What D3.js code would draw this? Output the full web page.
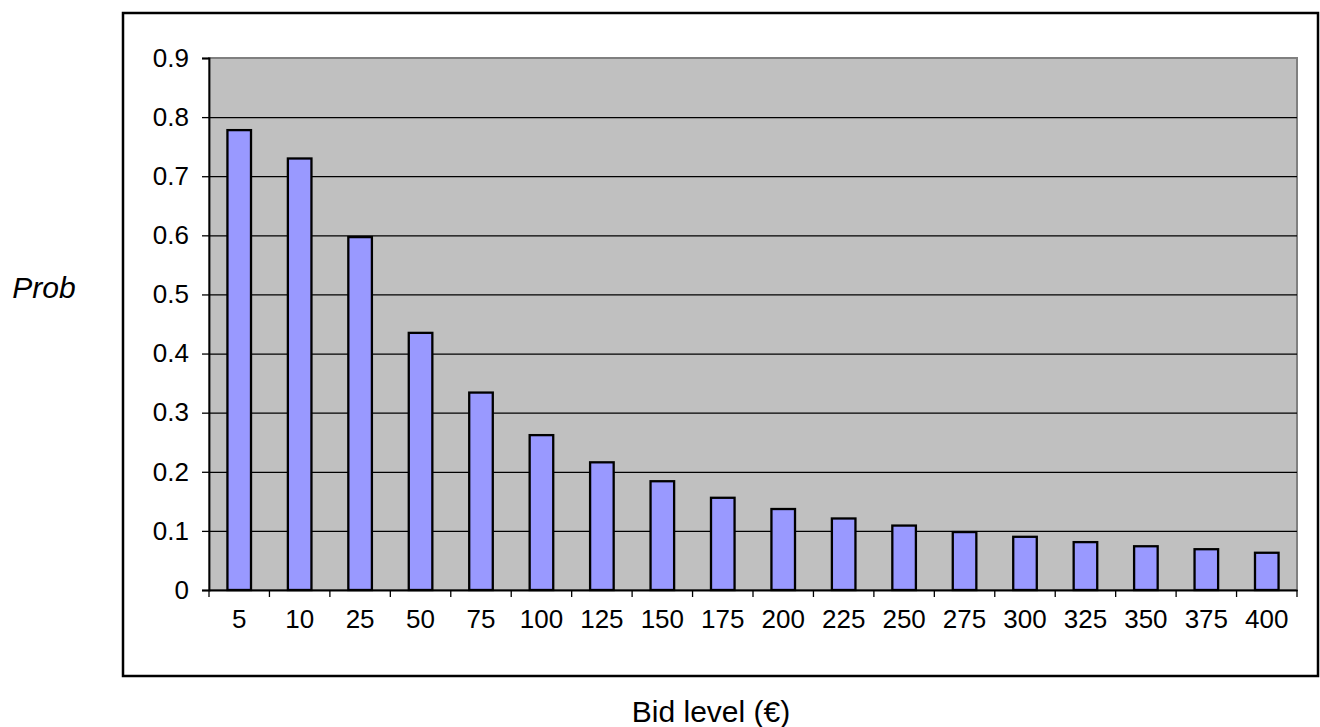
<!DOCTYPE html>
<html>
<head>
<meta charset="utf-8">
<script src="https://cdn.jsdelivr.net/npm/d3@7"></script>
<style>
  html, body { margin: 0; padding: 0; background: #fff; }
  svg { display: block; font-family: "Liberation Sans", Arial, sans-serif; }
</style>
</head>
<body>
<svg id="chart" width="1320" height="727"></svg>
<script>
// Bid levels (€) and the probability of acceptance at each level
const bidLevels = ["5", "10", "25", "50", "75", "100", "125", "150", "175", "200",
                   "225", "250", "275", "300", "325", "350", "375", "400"];
const probValues = [0.778, 0.730, 0.597, 0.435, 0.334, 0.262, 0.216, 0.184, 0.156,
                    0.137, 0.121, 0.109, 0.098, 0.090, 0.081, 0.074, 0.069, 0.063];
const yTickValues = [0, 0.1, 0.2, 0.3, 0.4, 0.5, 0.6, 0.7, 0.8, 0.9];

const svg = d3.select("#chart");

// Plot area bounds
const plot = { left: 209, right: 1297, top: 58, bottom: 590 };

const x = d3.scaleBand()
  .domain(bidLevels)
  .range([plot.left, plot.right])
  .padding(0);

const y = d3.scaleLinear()
  .domain([0, 0.9])
  .range([plot.bottom, plot.top]);

// Outer chart frame
svg.append("rect")
  .attr("x", 123).attr("y", 13)
  .attr("width", 1195).attr("height", 663)
  .attr("fill", "none")
  .attr("stroke", "#000")
  .attr("stroke-width", 2.5);

// Grey plot background
svg.append("rect")
  .attr("x", plot.left).attr("y", plot.top)
  .attr("width", plot.right - plot.left)
  .attr("height", plot.bottom - plot.top)
  .attr("fill", "#C0C0C0")
  .attr("stroke", "#808080")
  .attr("stroke-width", 2);

// Horizontal gridlines
svg.append("g")
  .selectAll("line")
  .data(yTickValues.filter(d => d > 0 && d < 0.9))
  .join("line")
  .attr("x1", plot.left).attr("x2", plot.right)
  .attr("y1", d => y(d) + 0.5).attr("y2", d => y(d) + 0.5)
  .attr("stroke", "#000")
  .attr("stroke-width", 1.2);

// Bars
const barFrac = 0.39;
svg.append("g")
  .selectAll("rect")
  .data(bidLevels.map((b, i) => ({ bid: b, p: probValues[i] })))
  .join("rect")
  .attr("x", d => x(d.bid) + x.bandwidth() * (1 - barFrac) / 2)
  .attr("width", x.bandwidth() * barFrac)
  .attr("y", d => y(d.p))
  .attr("height", d => y(0) - y(d.p))
  .attr("fill", "#9999FF")
  .attr("stroke", "#000")
  .attr("stroke-width", 2.3);

// Y axis
const yAxis = d3.axisLeft(y)
  .tickValues(yTickValues)
  .tickFormat(d => d === 0 ? "0" : d3.format(".1f")(d))
  .tickSize(7)
  .tickPadding(13);

const gy = svg.append("g")
  .attr("transform", `translate(${plot.left},0)`)
  .call(yAxis);
gy.select(".domain").attr("stroke", "#000").attr("stroke-width", 1.8);
gy.selectAll(".tick line").attr("stroke", "#000").attr("stroke-width", 1.3);
gy.selectAll(".tick text")
  .attr("fill", "#000")
  .style("font-size", "26px");

// X axis with ticks on category boundaries
const xAxis = d3.axisBottom(x)
  .tickSize(0)
  .tickPadding(20);

const gx = svg.append("g")
  .attr("transform", `translate(0,${plot.bottom})`)
  .call(xAxis);
gx.select(".domain").attr("stroke", "#000").attr("stroke-width", 2);
gx.selectAll(".tick text")
  .attr("fill", "#000")
  .style("font-size", "26px");

const boundaries = bidLevels.map(b => x(b)).concat([x.range()[1]]);
gx.append("g")
  .selectAll("line")
  .data(boundaries)
  .join("line")
  .attr("x1", d => d).attr("x2", d => d)
  .attr("y1", 0).attr("y2", 7)
  .attr("stroke", "#000")
  .attr("stroke-width", 1.3);

// Axis titles
svg.append("text")
  .attr("x", 44).attr("y", 298)
  .attr("text-anchor", "middle")
  .style("font-size", "30px")
  .style("font-style", "italic")
  .text("Prob");

svg.append("text")
  .attr("x", 711).attr("y", 722)
  .attr("text-anchor", "middle")
  .style("font-size", "30px")
  .text("Bid level (€)");
</script>
</body>
</html>
